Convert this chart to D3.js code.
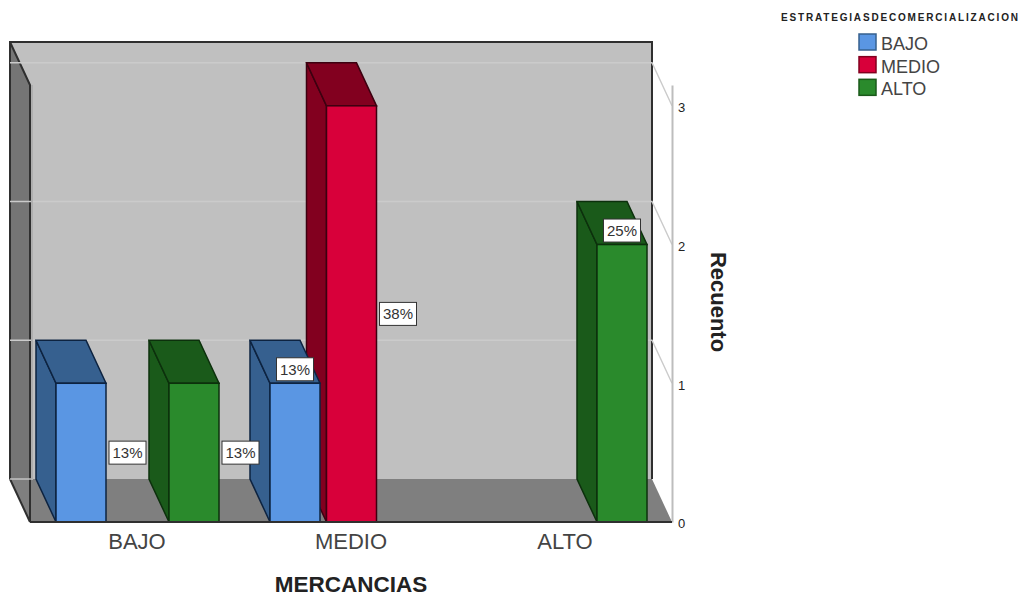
<!DOCTYPE html>
<html>
<head>
<meta charset="utf-8">
<script src="https://cdn.jsdelivr.net/npm/d3@7"></script>
<style>
    html, body { margin: 0; padding: 0; background: #fff; }
    svg { display: block; }
    text { font-family: "Liberation Sans", Arial, sans-serif; fill: #222; }
</style>
</head>
<body>
<div id="chart"></div>
<script>
// values
var categories = ['BAJO', 'MEDIO', 'ALTO'];
var seriesNames = ['BAJO', 'MEDIO', 'ALTO'];
var bajoCounts = [1, 1, 0];
var medioCounts = [0, 3, 0];
var altoCounts = [1, 0, 2];
var bajoPercents = ['13%', '13%', ''];
var medioPercents = ['', '38%', ''];
var altoPercents = ['13%', '', '25%'];
var countTicks = [0, 1, 2, 3];
var legendTitle = 'ESTRATEGIASDECOMERCIALIZACION';
var xTitle = 'MERCANCIAS';
var yTitle = 'Recuento';

var frontColors = ['#5a96e3', '#d8003a', '#2a8a2c'];
var darkColors = ['#36608f', '#82001f', '#1a5a1a'];
var lineColors = ['#0d2340', '#3d0010', '#0c300c'];

var width = 1020, height = 597;
var depthX = 20, depthY = 43; // oblique offset of the 3d box

var svg = d3.select('#chart').append('svg')
    .attr('width', width)
    .attr('height', height);

// scales
var x0 = d3.scaleBand().domain(categories).range([30, 672]);
var x1 = d3.scaleBand().domain(seriesNames).range([26, 189]).paddingInner(0.115);
var y = d3.scaleLinear().domain([0, 3.15]).range([522, 85]);

var left = x0.range()[0], right = x0.range()[1];
var bottom = y(0), top_ = y(3.15);

function poly(points) {
    return points.map(function (p) { return p.join(','); }).join(' ');
}

// back wall, left wall, floor
var box = svg.append('g');
box.append('polygon')
    .attr('points', poly([[left - depthX, top_ - depthY], [right - depthX, top_ - depthY], [right - depthX, bottom - depthY], [left - depthX, bottom - depthY]]))
    .attr('fill', '#c0c0c0');
box.append('polygon')
    .attr('points', poly([[left - depthX, bottom - depthY], [right - depthX, bottom - depthY], [right, bottom], [left, bottom]]))
    .attr('fill', '#7f7f7f');
box.append('polygon')
    .attr('points', poly([[left - depthX, top_ - depthY], [left, top_], [left, bottom - depthY], [left - depthX, bottom - depthY]]))
    .attr('fill', '#757575');

// gridlines on the wall, running round to the axis
var grid = svg.append('g');
countTicks.slice(1).forEach(function (t) {
    grid.append('polyline')
        .attr('points', poly([[left - depthX, y(t) - depthY], [right - depthX, y(t) - depthY], [right, y(t)]]))
        .attr('fill', 'none')
        .attr('stroke', '#cbcbcb')
        .attr('stroke-width', 1.4);
});
grid.append('line') // floor line across the left wall
    .attr('x1', left - depthX).attr('y1', bottom - depthY)
    .attr('x2', left + 3).attr('y2', bottom - depthY)
    .attr('stroke', '#c8c8c8')
    .attr('stroke-width', 1.4);
grid.append('line') // pale edge where the left wall meets the back
    .attr('x1', left + 2).attr('y1', top_)
    .attr('x2', left + 2).attr('y2', bottom - depthY)
    .attr('stroke', '#a8a8a8')
    .attr('stroke-width', 1.5);

// box outline
var edges = [
    [[left - depthX, bottom - depthY], [left - depthX, top_ - depthY], [right - depthX, top_ - depthY], [right - depthX, bottom - depthY]],
    [[left - depthX, top_ - depthY], [left, top_], [left, bottom]],
    [[left - depthX, bottom - depthY], [left, bottom]]
];
edges.forEach(function (e) {
    box.append('polyline')
        .attr('points', poly(e))
        .attr('fill', 'none')
        .attr('stroke', '#2f2f2f')
        .attr('stroke-width', 2);
});

// value axis on the right
var yAxis = d3.axisRight(y).tickValues(countTicks).tickSize(0).tickPadding(6).tickFormat(d3.format('d'));
var yG = svg.append('g')
    .attr('transform', 'translate(' + right + ',0)')
    .call(yAxis);
yG.select('.domain').attr('stroke', '#bdbdbd').attr('stroke-width', 2);
yG.selectAll('text').style('font-size', '13px').attr('dy', '0.45em');

// bars, drawn right to left so nearer ones overlap properly
var counts = [bajoCounts, medioCounts, altoCounts];
var percents = [bajoPercents, medioPercents, altoPercents];
var bars = [];
seriesNames.forEach(function (s, i) {
    categories.forEach(function (c, j) {
        if (counts[i][j] > 0) {
            bars.push({ cat: c, ser: s, serIndex: i, value: counts[i][j], label: percents[i][j] });
        }
    });
});
bars.sort(function (a, b) {
    return (x0(b.cat) + x1(b.ser)) - (x0(a.cat) + x1(a.ser));
});

var barG = svg.append('g').selectAll('g')
    .data(bars)
    .enter().append('g');

barG.each(function (d) {
    var g = d3.select(this);
    var xa = x0(d.cat) + x1(d.ser), xb = xa + x1.bandwidth();
    var yt = y(d.value);
    var stroke = lineColors[d.serIndex];
    g.append('polygon') // side
        .attr('points', poly([[xa - depthX, yt - depthY], [xa, yt], [xa, bottom], [xa - depthX, bottom - depthY]]))
        .attr('fill', darkColors[d.serIndex])
        .attr('stroke', stroke).attr('stroke-width', 1.5);
    g.append('polygon') // top
        .attr('points', poly([[xa - depthX, yt - depthY], [xb - depthX, yt - depthY], [xb, yt], [xa, yt]]))
        .attr('fill', darkColors[d.serIndex])
        .attr('stroke', stroke).attr('stroke-width', 1.5);
    g.append('rect') // front
        .attr('x', xa).attr('y', yt)
        .attr('width', xb - xa).attr('height', bottom - yt)
        .attr('fill', frontColors[d.serIndex])
        .attr('stroke', stroke).attr('stroke-width', 1.5);
});

// front edge of the floor
svg.append('line')
    .attr('x1', left).attr('y1', bottom)
    .attr('x2', right).attr('y2', bottom)
    .attr('stroke', '#2f2f2f')
    .attr('stroke-width', 2);

// percent boxes: beside the bar unless the next bar is too close
var labelG = svg.append('g').selectAll('g')
    .data(bars)
    .enter().append('g')
    .attr('transform', function (d) {
        var xa = x0(d.cat) + x1(d.ser), xb = xa + x1.bandwidth();
        var onTop = (d.cat === 'MEDIO' && d.ser === 'BAJO') || d.cat === 'ALTO';
        if (onTop) return 'translate(' + (xa + 25) + ',' + (y(d.value) - 14) + ')';
        return 'translate(' + (xb + 21.5) + ',' + ((y(d.value) + bottom) / 2) + ')';
    });
labelG.append('rect')
    .attr('x', -18.5).attr('y', -11.5)
    .attr('width', 37).attr('height', 23)
    .attr('fill', '#fff')
    .attr('stroke', '#333')
    .attr('stroke-width', 1);
labelG.append('text')
    .attr('text-anchor', 'middle')
    .attr('dy', '0.36em')
    .style('font-size', '15px')
    .style('fill', '#333')
    .text(function (d) { return d.label; });

// category axis
var xAxis = d3.axisBottom(x0).tickSize(0).tickPadding(11);
var xG = svg.append('g')
    .attr('transform', 'translate(0,' + bottom + ')')
    .call(xAxis);
xG.select('.domain').remove();
xG.selectAll('text').style('font-size', '22px').style('fill', '#444');

// axis titles
svg.append('text')
    .attr('x', 351).attr('y', 592)
    .attr('text-anchor', 'middle')
    .style('font-size', '22.5px').style('font-weight', 'bold')
    .text(xTitle);
svg.append('text')
    .attr('transform', 'translate(711,302) rotate(90)')
    .attr('text-anchor', 'middle')
    .style('font-size', '22px').style('font-weight', 'bold')
    .text(yTitle);

// legend
svg.append('text')
    .attr('x', 781).attr('y', 21)
    .attr('textLength', 237)
    .style('font-size', '10px').style('font-weight', 'bold')
    .text(legendTitle);

var legendY = d3.scaleBand().domain(seriesNames).range([34, 102]);
var legend = svg.append('g').selectAll('g')
    .data(seriesNames)
    .enter().append('g')
    .attr('transform', function (d) { return 'translate(859,' + legendY(d) + ')'; });
legend.append('rect')
    .attr('width', 17).attr('height', 16)
    .attr('fill', function (d, i) { return frontColors[i]; })
    .attr('stroke', function (d, i) { return darkColors[i]; })
    .attr('stroke-width', 1.5);
legend.append('text')
    .attr('x', 22).attr('y', 16)
    .style('font-size', '18px')
    .style('fill', '#444')
    .text(function (d) { return d; });
</script>
</body>
</html>
